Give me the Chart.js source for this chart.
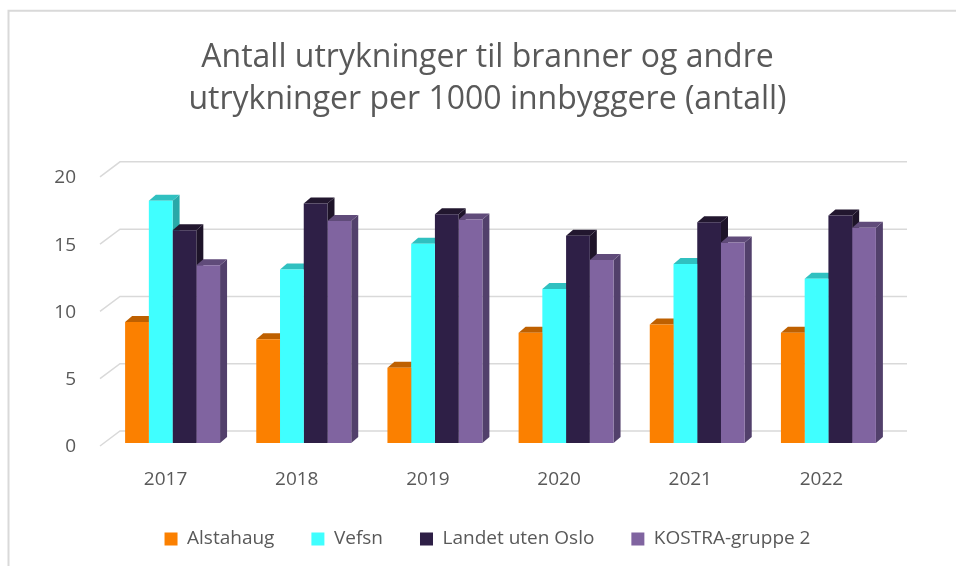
<!DOCTYPE html>
<html>
<head>
<meta charset="utf-8">
<script src="https://cdn.jsdelivr.net/npm/chart.js@4.4.1/dist/chart.umd.min.js"></script>
<style>
  html, body { margin: 0; padding: 0; background: #fff; }
  #wrap { width: 956px; height: 566px; }
</style>
</head>
<body>
<div id="wrap"><canvas id="myChart" width="956" height="566"></canvas></div>
<script>
const years = ['2017', '2018', '2019', '2020', '2021', '2022'];
const alstahaug = [9.0, 7.7, 5.6, 8.2, 8.8, 8.2];
const vefsn = [18.0, 12.9, 14.8, 11.45, 13.3, 12.2];
const landetUtenOslo = [15.8, 17.8, 17.0, 15.4, 16.4, 16.9];
const kostraGruppe2 = [13.2, 16.5, 16.6, 13.6, 14.9, 16.0];
const yTicks = [0, 5, 10, 15, 20];

const fontFamily = '"Open Sans", sans-serif';
const textColor = '#595959';
const gridColor = '#D9D9D9';

// front, top and side shades per series
const fronts = ['#FB8000', '#40FFFF', '#2E1F46', '#8064A0'];
const tops = ['#BE6000', '#30C0C0', '#22172F', '#604B7A'];
const sides = ['#B05800', '#29A8A8', '#1E1429', '#52406B'];

const barShift = { x: 7, y: -3 };   // bars stand a bit behind the front plane
const depth = { x: 7, y: -6 };      // bar thickness
const wall = { x: 20, y: -15 };     // back wall offset

const pseudo3d = {
  id: 'pseudo3d',
  beforeDraw(chart) {
    const ctx = chart.ctx;
    const area = chart.chartArea;
    const y = chart.scales.y;
    ctx.save();
    // frame
    ctx.strokeStyle = gridColor;
    ctx.lineWidth = 2;
    ctx.beginPath();
    ctx.moveTo(8.5, 566);
    ctx.lineTo(8.5, 10.7);
    ctx.lineTo(956, 10.7);
    ctx.stroke();
    // back wall gridlines and the slanted side wall ticks
    ctx.lineWidth = 1.5;
    y.ticks.forEach(t => {
      const py = y.getPixelForValue(t.value);
      ctx.beginPath();
      ctx.moveTo(area.left, py);
      ctx.lineTo(area.left + wall.x, py + wall.y);
      ctx.lineTo(area.right + wall.x, py + wall.y);
      ctx.stroke();
    });
    // value axis labels
    ctx.fillStyle = textColor;
    ctx.font = '19px ' + fontFamily;
    ctx.textAlign = 'right';
    ctx.textBaseline = 'middle';
    y.ticks.forEach(t => {
      ctx.fillText(String(t.value), area.left - 24, y.getPixelForValue(t.value) + 1);
    });
    ctx.restore();
  },
  beforeDatasetsDraw(chart) {
    const ctx = chart.ctx;
    ctx.save();
    ctx.translate(barShift.x, barShift.y);
    const n = chart.data.labels.length;
    for (let i = 0; i < n; i++) {
      chart.data.datasets.forEach((ds, d) => {
        const el = chart.getDatasetMeta(d).data[i];
        const l = el.x - el.width / 2;
        const r = el.x + el.width / 2;
        const t = el.y;
        const b = el.base;
        // side
        ctx.fillStyle = sides[d];
        ctx.beginPath();
        ctx.moveTo(r, t);
        ctx.lineTo(r + depth.x, t + depth.y);
        ctx.lineTo(r + depth.x, b + depth.y);
        ctx.lineTo(r, b);
        ctx.closePath();
        ctx.fill();
        // top
        ctx.fillStyle = tops[d];
        ctx.beginPath();
        ctx.moveTo(l, t);
        ctx.lineTo(l + depth.x, t + depth.y);
        ctx.lineTo(r + depth.x, t + depth.y);
        ctx.lineTo(r, t);
        ctx.closePath();
        ctx.fill();
      });
    }
  },
  afterDatasetsDraw(chart) {
    chart.ctx.restore();
  }
};

const series = [
  ['Alstahaug', alstahaug],
  ['Vefsn', vefsn],
  ['Landet uten Oslo', landetUtenOslo],
  ['KOSTRA-gruppe 2', kostraGruppe2]
];

new Chart(document.getElementById('myChart'), {
  type: 'bar',
  data: {
    labels: years,
    datasets: series.map(([name, values], i) => ({
      label: name,
      data: values,
      backgroundColor: fronts[i],
      borderWidth: 0,
      categoryPercentage: 0.724,
      barPercentage: 1,
      clip: false
    }))
  },
  plugins: [pseudo3d],
  options: {
    responsive: false,
    animation: false,
    layout: { padding: { left: 88, right: 69, top: 0, bottom: 7.5 } },
    scales: {
      x: {
        afterFit: scale => { scale.height = 46.5; },
        grid: { display: false, drawTicks: false },
        border: { display: false },
        ticks: { color: textColor, font: { family: fontFamily, size: 19 }, padding: 22 }
      },
      y: {
        min: 0,
        max: 20,
        afterBuildTicks: scale => { scale.ticks = yTicks.map(v => ({ value: v })); },
        afterFit: scale => { scale.width = 12; },
        grid: { display: false, drawTicks: false },
        border: { display: false },
        ticks: { display: false }
      }
    },
    plugins: {
      title: {
        display: true,
        text: ['Antall utrykninger til branner og andre', 'utrykninger per 1000 innbyggere (antall)'],
        color: textColor,
        font: { family: fontFamily, size: 32, weight: 'normal', lineHeight: 1.31 },
        padding: { top: 37, bottom: 56 }
      },
      legend: {
        position: 'bottom',
        maxHeight: 67,
        labels: {
          color: textColor,
          font: { family: fontFamily, size: 19 },
          boxWidth: 13,
          boxHeight: 13,
          padding: 37
        }
      },
      tooltip: { enabled: false }
    }
  }
});
</script>
</body>
</html>
